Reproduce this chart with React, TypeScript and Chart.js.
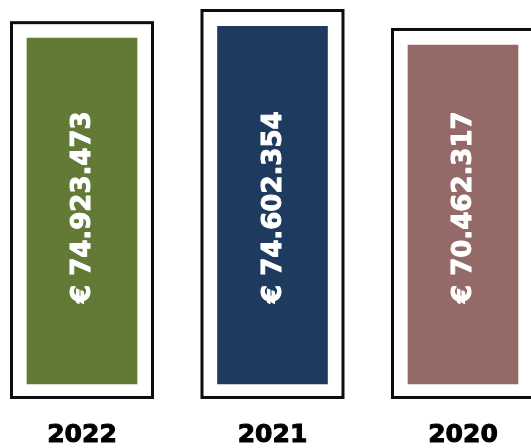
import React, { useEffect, useRef } from "react";
import { Chart, registerables } from "chart.js";

Chart.register(...registerables);

const categories = ["2022", "2021", "2020"];
const amounts = [74923473, 74602354, 70462317];
// relative bar heights as drawn in the picture (tallest = 100)
const barHeights = [96.6, 100, 94.7];
const barColors = ["#627a36", "#1e3a5f", "#946a68"];

const FONT = "'DejaVu Sans', sans-serif";

function fmt(n: number): string {
  return "€ " + String(n).replace(/\B(?=(\d{3})+(?!\d))/g, ".");
}

const framePlugin = {
  id: "frames",
  beforeDatasetsDraw(chart: any) {
    const ctx = chart.ctx;
    const meta = chart.getDatasetMeta(0);
    ctx.save();
    ctx.strokeStyle = "#0d0d0d";
    ctx.lineWidth = 3;
    meta.data.forEach((bar: any) => {
      const half = bar.width / 2;
      const l = bar.x - half - 15.5;
      const r = bar.x + half + 15.5;
      const t = bar.y - 15.5;
      const b = bar.base + 13.5;
      ctx.strokeRect(l, t, r - l, b - t);
    });
    ctx.restore();
  },
};

const labelPlugin = {
  id: "valueLabels",
  afterDatasetsDraw(chart: any) {
    const ctx = chart.ctx;
    const meta = chart.getDatasetMeta(0);
    ctx.save();
    ctx.fillStyle = "#ffffff";
    ctx.strokeStyle = "#ffffff";
    ctx.lineWidth = 1;
    ctx.lineJoin = "round";
    ctx.font = `bold 26px ${FONT}`;
    ctx.textAlign = "left";
    ctx.textBaseline = "middle";
    meta.data.forEach((bar: any, i: number) => {
      ctx.save();
      ctx.translate(bar.x + 1.5, bar.base - 81);
      ctx.rotate(-Math.PI / 2);
      ctx.strokeText(fmt(amounts[i]), 0, 0);
      ctx.fillText(fmt(amounts[i]), 0, 0);
      ctx.restore();
    });
    ctx.restore();
  },
};

export default function App() {
  const ref = useRef<HTMLCanvasElement | null>(null);

  useEffect(() => {
    document.body.style.margin = "0";
    const canvas = ref.current;
    if (!canvas) return;
    const chart = new Chart(canvas, {
      type: "bar",
      data: {
        datasets: [
          {
            data: barHeights.map((h, i) => ({ x: i, y: h })),
            backgroundColor: barColors,
            borderWidth: 0,
            barThickness: 110,
          },
        ],
      },
      options: {
        responsive: false,
        animation: false,
        layout: { padding: { top: 26, left: 0, right: 0, bottom: 0 } },
        plugins: {
          legend: { display: false },
          tooltip: { enabled: false },
        },
        scales: {
          x: {
            type: "linear",
            offset: false,
            min: -0.4304,
            max: 2.357,
            grid: { display: false, drawTicks: false, offset: false },
            border: { display: false },
            afterBuildTicks: (scale: any) => {
              scale.ticks = categories.map((_, i) => ({ value: i }));
            },
            ticks: {
              autoSkip: false,
              maxRotation: 0,
              padding: 0,
              color: "#000000",
              textStrokeColor: "#000000",
              textStrokeWidth: 1,
              font: { family: FONT, size: 25, weight: "bold", lineHeight: 1 },
              callback: (v: any) => categories[Math.round(Number(v))] ?? "",
            },
          },
          y: {
            display: false,
            min: -10.9,
            max: 100,
          },
        },
      },
      plugins: [framePlugin, labelPlugin],
    } as any);
    return () => chart.destroy();
  }, []);

  return (
    <div style={{ position: "absolute", left: 0, top: 0, width: 531, height: 448 }}>
      <canvas ref={ref} width={531} height={448} />
    </div>
  );
}
